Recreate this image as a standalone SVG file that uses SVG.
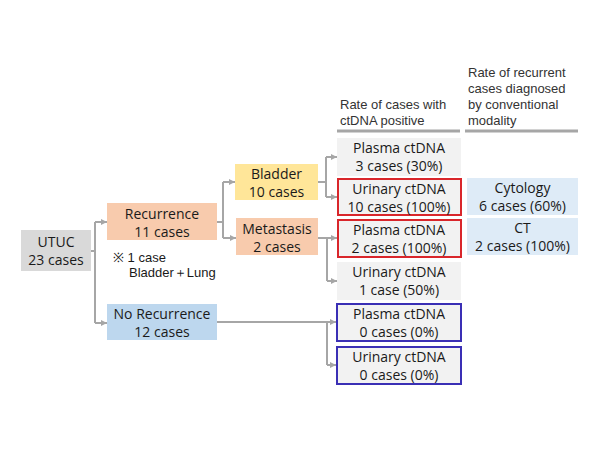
<svg xmlns="http://www.w3.org/2000/svg" width="600" height="450" viewBox="0 0 600 450">
<style>
text{font-family:"Open Sans","Noto Sans","Liberation Sans",sans-serif;font-size:14px;fill:#1a1a1a;text-anchor:middle}
.h{font-family:"Liberation Sans",Arial,sans-serif;font-size:13px;text-anchor:start;fill:#333}
.n{font-family:"Liberation Sans",Arial,sans-serif;text-anchor:start;font-size:13px}
.c{fill:none;stroke:#a6a6a6;stroke-width:2}
.g{fill:#f2f2f2}
.red{fill:#f2f2f2;stroke:#d9262b;stroke-width:2}
.blu{fill:#f2f2f2;stroke:#3a2fb5;stroke-width:2}
</style>
<defs>
<marker id="a" viewBox="0 0 6 6" refX="6" refY="3" markerWidth="6" markerHeight="6" markerUnits="userSpaceOnUse" orient="auto">
<path d="M0,0L6,3L0,6z" fill="#a6a6a6"/>
</marker>
</defs>
<rect width="600" height="450" fill="#fff"/>
<g id="headers">
<text class="h" x="340" y="109">Rate of cases with</text>
<text class="h" x="340" y="125">ctDNA positive</text>
<text class="h" x="468" y="77">Rate of recurrent</text>
<text class="h" x="468" y="93">cases diagnosed</text>
<text class="h" x="468" y="109">by conventional</text>
<text class="h" x="468" y="125">modality</text>
<line x1="337" y1="131" x2="460" y2="131" stroke="#a6a6a6" stroke-width="3"/>
<line x1="465" y1="131" x2="578" y2="131" stroke="#a6a6a6" stroke-width="3"/>
</g>
<g id="connectors">
<path class="c" d="M91,251H95M95,222V323" />
<path class="c" d="M95,222H107" marker-end="url(#a)"/>
<path class="c" d="M95,323H107" marker-end="url(#a)"/>
<path class="c" d="M217,222H223M223,182V238"/>
<path class="c" d="M223,182H235" marker-end="url(#a)"/>
<path class="c" d="M223,238H236" marker-end="url(#a)"/>
<path class="c" d="M318,182H326M326,157V197"/>
<path class="c" d="M326,157H337" marker-end="url(#a)"/>
<path class="c" d="M326,197H337" marker-end="url(#a)"/>
<path class="c" d="M318,238H327M327,238V281"/>
<path class="c" d="M327,238H337" marker-end="url(#a)"/>
<path class="c" d="M327,281H337" marker-end="url(#a)"/>
<path class="c" d="M217,322H327M327,322V365"/>
<path class="c" d="M327,322H336" marker-end="url(#a)"/>
<path class="c" d="M327,365H336" marker-end="url(#a)"/>
</g>
<g id="utuc">
<rect x="21" y="230" width="70" height="41" fill="#d9d9d9"/>
<text x="56" y="247">UTUC</text>
<text x="56" y="265">23 cases</text>
</g>
<g id="recurrence">
<rect x="107" y="203" width="110" height="37" fill="#f8cbad"/>
<text x="162" y="219">Recurrence</text>
<text x="162" y="237">11 cases</text>
</g>
<g id="note">
<text class="n" x="113" y="262">※ 1 case</text>
<text class="n" x="129" y="277">Bladder＋Lung</text>
</g>
<g id="norecurrence">
<rect x="107" y="304" width="110" height="36" fill="#bdd7ee"/>
<text x="162" y="319">No Recurrence</text>
<text x="162" y="337">12 cases</text>
</g>
<g id="bladder">
<rect x="235" y="164" width="83" height="36" fill="#ffe699"/>
<text x="276.5" y="179">Bladder</text>
<text x="276.5" y="197">10 cases</text>
</g>
<g id="metastasis">
<rect x="236" y="218" width="82" height="37" fill="#f8cbad"/>
<text x="277" y="234">Metastasis</text>
<text x="277" y="252">2 cases</text>
</g>
<g id="plasma1">
<rect class="g" x="337" y="138" width="124" height="38"/>
<text x="399" y="153">Plasma ctDNA</text>
<text x="399" y="171">3 cases (30%)</text>
</g>
<g id="urinary1">
<rect class="red" x="338" y="179" width="123" height="36"/>
<text x="399" y="194">Urinary ctDNA</text>
<text x="399" y="212">10 cases (100%)</text>
</g>
<g id="plasma2">
<rect class="red" x="338" y="220" width="123" height="37"/>
<text x="399" y="235">Plasma ctDNA</text>
<text x="399" y="253">2 cases (100%)</text>
</g>
<g id="urinary2">
<rect class="g" x="337" y="262" width="124" height="38"/>
<text x="399" y="277">Urinary ctDNA</text>
<text x="399" y="295">1 case (50%)</text>
</g>
<g id="plasma3">
<rect class="blu" x="337" y="304" width="124" height="37"/>
<text x="399" y="319">Plasma ctDNA</text>
<text x="399" y="337">0 cases (0%)</text>
</g>
<g id="urinary3">
<rect class="blu" x="337" y="347" width="124" height="37"/>
<text x="399" y="362">Urinary ctDNA</text>
<text x="399" y="380">0 cases (0%)</text>
</g>
<g id="cytology">
<rect x="467" y="178" width="111" height="37" fill="#deebf7"/>
<text x="522.5" y="193">Cytology</text>
<text x="522.5" y="211">6 cases (60%)</text>
</g>
<g id="ct">
<rect x="467" y="218" width="111" height="37" fill="#deebf7"/>
<text x="522.5" y="233">CT</text>
<text x="522.5" y="251">2 cases (100%)</text>
</g>
</svg>
